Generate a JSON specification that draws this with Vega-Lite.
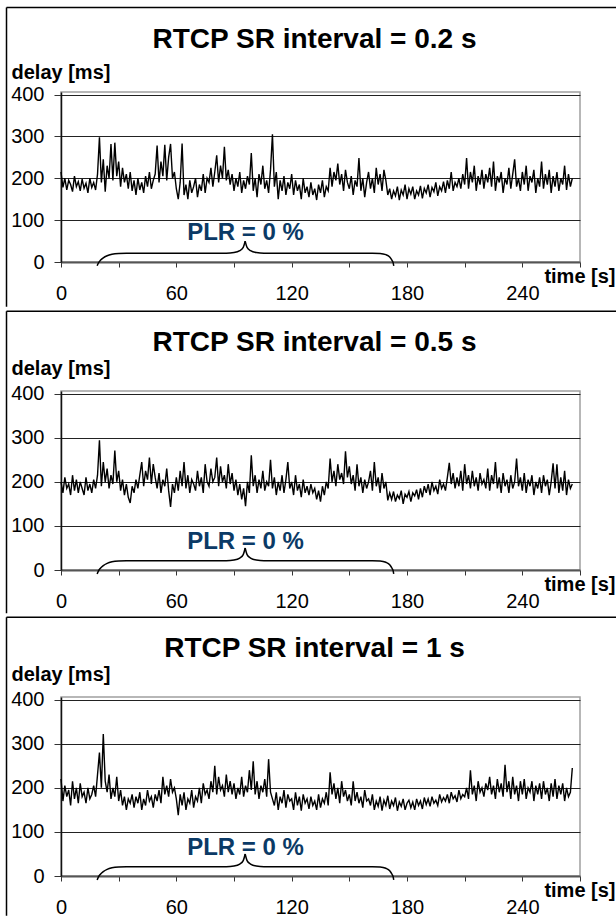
{
"$schema": "https://vega.github.io/schema/vega-lite/v6.json",
"padding": {"left": 5, "top": 5, "right": 0, "bottom": 0},
"spacing": 0,
"config": {
 "font": "Liberation Sans",
 "view": {"stroke": "#a0a0a0", "strokeWidth": 1.5},
 "axis": {"labelFont": "Liberation Sans", "titleFont": "Liberation Sans", "labelColor": "black", "titleColor": "black", "labelFontSize": 20, "titleFontSize": 20, "titleFontWeight": "bold", "labelOverlap": false, "labelFlush": false},
 "title": {"font": "Liberation Sans", "fontSize": 28, "fontWeight": "bold", "color": "black", "anchor": "middle", "baseline": "alphabetic", "frame": "group"}
},
"datasets": {
"brace": [
{"part":"L","t":18.8,"d":-9},{"part":"L","t":19.5,"d":-2},{"part":"L","t":20.5,"d":4},{"part":"L","t":22,"d":10},{"part":"L","t":24,"d":15},{"part":"L","t":26.5,"d":18.5},{"part":"L","t":30,"d":20.5},{"part":"L","t":34,"d":21},{"part":"L","t":86,"d":21},{"part":"L","t":90,"d":22.5},{"part":"L","t":93,"d":27},{"part":"L","t":94.8,"d":35},{"part":"L","t":95.8,"d":50},
{"part":"R","t":95.8,"d":50},{"part":"R","t":96.8,"d":35},{"part":"R","t":98.6,"d":27},{"part":"R","t":101.6,"d":22.5},{"part":"R","t":105.6,"d":21},{"part":"R","t":162,"d":21},{"part":"R","t":166,"d":20.5},{"part":"R","t":169,"d":17.5},{"part":"R","t":171,"d":12},{"part":"R","t":172.2,"d":4},{"part":"R","t":172.8,"d":-2},{"part":"R","t":173.1,"d":-9}
],
"p1": [
{"t":0,"d":215},{"t":1,"d":178},{"t":2,"d":200},{"t":3,"d":172},{"t":4,"d":195},{"t":5,"d":185},{"t":6,"d":168},{"t":7,"d":205},{"t":8,"d":180},{"t":9,"d":192},
{"t":10,"d":170},{"t":11,"d":198},{"t":12,"d":176},{"t":13,"d":188},{"t":14,"d":165},{"t":15,"d":200},{"t":16,"d":178},{"t":17,"d":190},{"t":18,"d":172},{"t":19,"d":210},
{"t":20,"d":298},{"t":21,"d":190},{"t":22,"d":245},{"t":23,"d":168},{"t":24,"d":230},{"t":25,"d":200},{"t":26,"d":282},{"t":27,"d":195},{"t":28,"d":285},{"t":29,"d":205},
{"t":30,"d":240},{"t":31,"d":180},{"t":32,"d":225},{"t":33,"d":190},{"t":34,"d":210},{"t":35,"d":175},{"t":36,"d":215},{"t":37,"d":170},{"t":38,"d":195},{"t":39,"d":160},
{"t":40,"d":200},{"t":41,"d":172},{"t":42,"d":190},{"t":43,"d":165},{"t":44,"d":205},{"t":45,"d":180},{"t":46,"d":215},{"t":47,"d":175},{"t":48,"d":195},{"t":49,"d":210},
{"t":50,"d":278},{"t":51,"d":190},{"t":52,"d":240},{"t":53,"d":205},{"t":54,"d":280},{"t":55,"d":195},{"t":56,"d":250},{"t":57,"d":282},{"t":58,"d":200},{"t":59,"d":215},
{"t":60,"d":175},{"t":61,"d":150},{"t":62,"d":190},{"t":63,"d":283},{"t":64,"d":160},{"t":65,"d":185},{"t":66,"d":150},{"t":67,"d":195},{"t":68,"d":165},{"t":69,"d":180},
{"t":70,"d":200},{"t":71,"d":155},{"t":72,"d":185},{"t":73,"d":170},{"t":74,"d":210},{"t":75,"d":165},{"t":76,"d":200},{"t":77,"d":190},{"t":78,"d":225},{"t":79,"d":180},
{"t":80,"d":215},{"t":81,"d":255},{"t":82,"d":190},{"t":83,"d":230},{"t":84,"d":200},{"t":85,"d":275},{"t":86,"d":195},{"t":87,"d":220},{"t":88,"d":185},{"t":89,"d":210},
{"t":90,"d":170},{"t":91,"d":200},{"t":92,"d":180},{"t":93,"d":215},{"t":94,"d":165},{"t":95,"d":195},{"t":96,"d":175},{"t":97,"d":205},{"t":98,"d":185},{"t":99,"d":260},
{"t":100,"d":170},{"t":101,"d":200},{"t":102,"d":155},{"t":103,"d":210},{"t":104,"d":185},{"t":105,"d":230},{"t":106,"d":175},{"t":107,"d":195},{"t":108,"d":165},{"t":109,"d":220},
{"t":110,"d":305},{"t":111,"d":180},{"t":112,"d":215},{"t":113,"d":150},{"t":114,"d":195},{"t":115,"d":170},{"t":116,"d":205},{"t":117,"d":160},{"t":118,"d":190},{"t":119,"d":175},
{"t":120,"d":210},{"t":121,"d":160},{"t":122,"d":195},{"t":123,"d":170},{"t":124,"d":185},{"t":125,"d":150},{"t":126,"d":200},{"t":127,"d":165},{"t":128,"d":180},{"t":129,"d":155},
{"t":130,"d":190},{"t":131,"d":160},{"t":132,"d":175},{"t":133,"d":148},{"t":134,"d":185},{"t":135,"d":165},{"t":136,"d":195},{"t":137,"d":155},{"t":138,"d":180},{"t":139,"d":170},
{"t":140,"d":225},{"t":141,"d":180},{"t":142,"d":215},{"t":143,"d":195},{"t":144,"d":235},{"t":145,"d":185},{"t":146,"d":210},{"t":147,"d":170},{"t":148,"d":220},{"t":149,"d":190},
{"t":150,"d":175},{"t":151,"d":205},{"t":152,"d":160},{"t":153,"d":195},{"t":154,"d":180},{"t":155,"d":248},{"t":156,"d":170},{"t":157,"d":200},{"t":158,"d":155},{"t":159,"d":190},
{"t":160,"d":215},{"t":161,"d":175},{"t":162,"d":200},{"t":163,"d":165},{"t":164,"d":225},{"t":165,"d":185},{"t":166,"d":210},{"t":167,"d":170},{"t":168,"d":220},{"t":169,"d":195},
{"t":170,"d":160},{"t":171,"d":175},{"t":172,"d":150},{"t":173,"d":170},{"t":174,"d":158},{"t":175,"d":180},{"t":176,"d":148},{"t":177,"d":172},{"t":178,"d":160},{"t":179,"d":185},
{"t":180,"d":150},{"t":181,"d":175},{"t":182,"d":162},{"t":183,"d":180},{"t":184,"d":150},{"t":185,"d":170},{"t":186,"d":160},{"t":187,"d":182},{"t":188,"d":152},{"t":189,"d":176},
{"t":190,"d":165},{"t":191,"d":185},{"t":192,"d":155},{"t":193,"d":178},{"t":194,"d":168},{"t":195,"d":190},{"t":196,"d":158},{"t":197,"d":180},{"t":198,"d":170},{"t":199,"d":192},
{"t":200,"d":165},{"t":201,"d":195},{"t":202,"d":175},{"t":203,"d":215},{"t":204,"d":170},{"t":205,"d":190},{"t":206,"d":180},{"t":207,"d":200},{"t":208,"d":175},{"t":209,"d":210},
{"t":210,"d":185},{"t":211,"d":248},{"t":212,"d":175},{"t":213,"d":215},{"t":214,"d":190},{"t":215,"d":230},{"t":216,"d":170},{"t":217,"d":205},{"t":218,"d":185},{"t":219,"d":220},
{"t":220,"d":175},{"t":221,"d":210},{"t":222,"d":190},{"t":223,"d":225},{"t":224,"d":180},{"t":225,"d":240},{"t":226,"d":170},{"t":227,"d":205},{"t":228,"d":190},{"t":229,"d":215},
{"t":230,"d":165},{"t":231,"d":200},{"t":232,"d":185},{"t":233,"d":225},{"t":234,"d":175},{"t":235,"d":210},{"t":236,"d":245},{"t":237,"d":180},{"t":238,"d":200},{"t":239,"d":170},
{"t":240,"d":215},{"t":241,"d":185},{"t":242,"d":230},{"t":243,"d":170},{"t":244,"d":205},{"t":245,"d":190},{"t":246,"d":220},{"t":247,"d":165},{"t":248,"d":200},{"t":249,"d":180},
{"t":250,"d":240},{"t":251,"d":175},{"t":252,"d":210},{"t":253,"d":185},{"t":254,"d":220},{"t":255,"d":165},{"t":256,"d":205},{"t":257,"d":180},{"t":258,"d":215},{"t":259,"d":170},
{"t":260,"d":200},{"t":261,"d":185},{"t":262,"d":230},{"t":263,"d":172},{"t":264,"d":210},{"t":265,"d":180},{"t":266,"d":200}
],
"p2": [
{"t":0,"d":200},{"t":1,"d":175},{"t":2,"d":210},{"t":3,"d":185},{"t":4,"d":195},{"t":5,"d":170},{"t":6,"d":215},{"t":7,"d":180},{"t":8,"d":205},{"t":9,"d":175},
{"t":10,"d":200},{"t":11,"d":185},{"t":12,"d":170},{"t":13,"d":210},{"t":14,"d":180},{"t":15,"d":195},{"t":16,"d":175},{"t":17,"d":205},{"t":18,"d":185},{"t":19,"d":215},
{"t":20,"d":294},{"t":21,"d":190},{"t":22,"d":245},{"t":23,"d":200},{"t":24,"d":230},{"t":25,"d":185},{"t":26,"d":215},{"t":27,"d":195},{"t":28,"d":271},{"t":29,"d":200},
{"t":30,"d":225},{"t":31,"d":180},{"t":32,"d":205},{"t":33,"d":170},{"t":34,"d":195},{"t":35,"d":165},{"t":36,"d":152},{"t":37,"d":190},{"t":38,"d":175},{"t":39,"d":205},
{"t":40,"d":185},{"t":41,"d":215},{"t":42,"d":245},{"t":43,"d":190},{"t":44,"d":225},{"t":45,"d":205},{"t":46,"d":255},{"t":47,"d":195},{"t":48,"d":240},{"t":49,"d":210},
{"t":50,"d":185},{"t":51,"d":220},{"t":52,"d":175},{"t":53,"d":205},{"t":54,"d":190},{"t":55,"d":230},{"t":56,"d":180},{"t":57,"d":143},{"t":58,"d":195},{"t":59,"d":175},
{"t":60,"d":210},{"t":61,"d":180},{"t":62,"d":225},{"t":63,"d":190},{"t":64,"d":245},{"t":65,"d":185},{"t":66,"d":215},{"t":67,"d":175},{"t":68,"d":205},{"t":69,"d":195},
{"t":70,"d":180},{"t":71,"d":225},{"t":72,"d":190},{"t":73,"d":210},{"t":74,"d":175},{"t":75,"d":240},{"t":76,"d":200},{"t":77,"d":190},{"t":78,"d":230},{"t":79,"d":200},
{"t":80,"d":210},{"t":81,"d":255},{"t":82,"d":190},{"t":83,"d":235},{"t":84,"d":200},{"t":85,"d":215},{"t":86,"d":185},{"t":87,"d":240},{"t":88,"d":195},{"t":89,"d":220},
{"t":90,"d":180},{"t":91,"d":205},{"t":92,"d":170},{"t":93,"d":195},{"t":94,"d":160},{"t":95,"d":185},{"t":96,"d":145},{"t":97,"d":200},{"t":98,"d":175},{"t":99,"d":260},
{"t":100,"d":190},{"t":101,"d":215},{"t":102,"d":175},{"t":103,"d":205},{"t":104,"d":185},{"t":105,"d":225},{"t":106,"d":180},{"t":107,"d":200},{"t":108,"d":190},{"t":109,"d":250},
{"t":110,"d":185},{"t":111,"d":210},{"t":112,"d":170},{"t":113,"d":200},{"t":114,"d":180},{"t":115,"d":215},{"t":116,"d":175},{"t":117,"d":205},{"t":118,"d":245},{"t":119,"d":185},
{"t":120,"d":200},{"t":121,"d":170},{"t":122,"d":215},{"t":123,"d":180},{"t":124,"d":195},{"t":125,"d":165},{"t":126,"d":205},{"t":127,"d":175},{"t":128,"d":190},{"t":129,"d":170},
{"t":130,"d":195},{"t":131,"d":175},{"t":132,"d":185},{"t":133,"d":160},{"t":134,"d":180},{"t":135,"d":155},{"t":136,"d":190},{"t":137,"d":170},{"t":138,"d":200},{"t":139,"d":185},
{"t":140,"d":253},{"t":141,"d":200},{"t":142,"d":225},{"t":143,"d":190},{"t":144,"d":240},{"t":145,"d":205},{"t":146,"d":220},{"t":147,"d":195},{"t":148,"d":269},{"t":149,"d":210},
{"t":150,"d":235},{"t":151,"d":195},{"t":152,"d":215},{"t":153,"d":180},{"t":154,"d":240},{"t":155,"d":190},{"t":156,"d":210},{"t":157,"d":175},{"t":158,"d":205},{"t":159,"d":185},
{"t":160,"d":200},{"t":161,"d":225},{"t":162,"d":180},{"t":163,"d":245},{"t":164,"d":190},{"t":165,"d":210},{"t":166,"d":175},{"t":167,"d":220},{"t":168,"d":185},{"t":169,"d":200},
{"t":170,"d":158},{"t":171,"d":175},{"t":172,"d":160},{"t":173,"d":178},{"t":174,"d":155},{"t":175,"d":170},{"t":176,"d":162},{"t":177,"d":180},{"t":178,"d":150},{"t":179,"d":172},
{"t":180,"d":165},{"t":181,"d":178},{"t":182,"d":155},{"t":183,"d":175},{"t":184,"d":168},{"t":185,"d":182},{"t":186,"d":160},{"t":187,"d":185},{"t":188,"d":165},{"t":189,"d":190},
{"t":190,"d":175},{"t":191,"d":195},{"t":192,"d":170},{"t":193,"d":200},{"t":194,"d":180},{"t":195,"d":190},{"t":196,"d":172},{"t":197,"d":205},{"t":198,"d":185},{"t":199,"d":195},
{"t":200,"d":180},{"t":201,"d":210},{"t":202,"d":243},{"t":203,"d":195},{"t":204,"d":220},{"t":205,"d":185},{"t":206,"d":210},{"t":207,"d":190},{"t":208,"d":225},{"t":209,"d":180},
{"t":210,"d":240},{"t":211,"d":195},{"t":212,"d":215},{"t":213,"d":185},{"t":214,"d":225},{"t":215,"d":190},{"t":216,"d":210},{"t":217,"d":180},{"t":218,"d":220},{"t":219,"d":195},
{"t":220,"d":205},{"t":221,"d":185},{"t":222,"d":230},{"t":223,"d":180},{"t":224,"d":215},{"t":225,"d":195},{"t":226,"d":245},{"t":227,"d":185},{"t":228,"d":210},{"t":229,"d":175},
{"t":230,"d":220},{"t":231,"d":190},{"t":232,"d":205},{"t":233,"d":175},{"t":234,"d":215},{"t":235,"d":185},{"t":236,"d":200},{"t":237,"d":253},{"t":238,"d":190},{"t":239,"d":210},
{"t":240,"d":180},{"t":241,"d":220},{"t":242,"d":175},{"t":243,"d":205},{"t":244,"d":190},{"t":245,"d":215},{"t":246,"d":170},{"t":247,"d":200},{"t":248,"d":185},{"t":249,"d":210},
{"t":250,"d":175},{"t":251,"d":215},{"t":252,"d":190},{"t":253,"d":205},{"t":254,"d":170},{"t":255,"d":200},{"t":256,"d":242},{"t":257,"d":185},{"t":258,"d":240},{"t":259,"d":175},
{"t":260,"d":210},{"t":261,"d":180},{"t":262,"d":225},{"t":263,"d":170},{"t":264,"d":205},{"t":265,"d":185},{"t":266,"d":195}
],
"p3": [
{"t":0,"d":220},{"t":1,"d":170},{"t":2,"d":205},{"t":3,"d":180},{"t":4,"d":195},{"t":5,"d":160},{"t":6,"d":215},{"t":7,"d":175},{"t":8,"d":200},{"t":9,"d":165},
{"t":10,"d":210},{"t":11,"d":180},{"t":12,"d":190},{"t":13,"d":165},{"t":14,"d":200},{"t":15,"d":175},{"t":16,"d":185},{"t":17,"d":205},{"t":18,"d":180},{"t":19,"d":230},
{"t":20,"d":280},{"t":21,"d":200},{"t":22,"d":322},{"t":23,"d":215},{"t":24,"d":190},{"t":25,"d":230},{"t":26,"d":175},{"t":27,"d":200},{"t":28,"d":180},{"t":29,"d":225},
{"t":30,"d":170},{"t":31,"d":195},{"t":32,"d":160},{"t":33,"d":180},{"t":34,"d":150},{"t":35,"d":175},{"t":36,"d":165},{"t":37,"d":185},{"t":38,"d":155},{"t":39,"d":180},
{"t":40,"d":165},{"t":41,"d":190},{"t":42,"d":150},{"t":43,"d":175},{"t":44,"d":160},{"t":45,"d":195},{"t":46,"d":170},{"t":47,"d":180},{"t":48,"d":155},{"t":49,"d":185},
{"t":50,"d":170},{"t":51,"d":195},{"t":52,"d":165},{"t":53,"d":225},{"t":54,"d":185},{"t":55,"d":205},{"t":56,"d":180},{"t":57,"d":220},{"t":58,"d":190},{"t":59,"d":200},
{"t":60,"d":175},{"t":61,"d":138},{"t":62,"d":185},{"t":63,"d":160},{"t":64,"d":190},{"t":65,"d":150},{"t":66,"d":175},{"t":67,"d":165},{"t":68,"d":195},{"t":69,"d":155},
{"t":70,"d":180},{"t":71,"d":170},{"t":72,"d":200},{"t":73,"d":165},{"t":74,"d":210},{"t":75,"d":185},{"t":76,"d":195},{"t":77,"d":175},{"t":78,"d":215},{"t":79,"d":190},
{"t":80,"d":250},{"t":81,"d":185},{"t":82,"d":225},{"t":83,"d":195},{"t":84,"d":205},{"t":85,"d":180},{"t":86,"d":230},{"t":87,"d":190},{"t":88,"d":215},{"t":89,"d":185},
{"t":90,"d":210},{"t":91,"d":175},{"t":92,"d":200},{"t":93,"d":185},{"t":94,"d":225},{"t":95,"d":180},{"t":96,"d":205},{"t":97,"d":190},{"t":98,"d":240},{"t":99,"d":195},
{"t":100,"d":260},{"t":101,"d":185},{"t":102,"d":215},{"t":103,"d":175},{"t":104,"d":205},{"t":105,"d":190},{"t":106,"d":220},{"t":107,"d":180},{"t":108,"d":265},{"t":109,"d":190},
{"t":110,"d":175},{"t":111,"d":160},{"t":112,"d":190},{"t":113,"d":150},{"t":114,"d":180},{"t":115,"d":165},{"t":116,"d":195},{"t":117,"d":155},{"t":118,"d":185},{"t":119,"d":170},
{"t":120,"d":175},{"t":121,"d":150},{"t":122,"d":190},{"t":123,"d":160},{"t":124,"d":180},{"t":125,"d":148},{"t":126,"d":185},{"t":127,"d":165},{"t":128,"d":175},{"t":129,"d":152},
{"t":130,"d":180},{"t":131,"d":160},{"t":132,"d":170},{"t":133,"d":150},{"t":134,"d":185},{"t":135,"d":155},{"t":136,"d":175},{"t":137,"d":165},{"t":138,"d":190},{"t":139,"d":160},
{"t":140,"d":235},{"t":141,"d":185},{"t":142,"d":210},{"t":143,"d":175},{"t":144,"d":200},{"t":145,"d":165},{"t":146,"d":215},{"t":147,"d":180},{"t":148,"d":195},{"t":149,"d":170},
{"t":150,"d":185},{"t":151,"d":160},{"t":152,"d":215},{"t":153,"d":170},{"t":154,"d":190},{"t":155,"d":165},{"t":156,"d":180},{"t":157,"d":155},{"t":158,"d":195},{"t":159,"d":170},
{"t":160,"d":175},{"t":161,"d":160},{"t":162,"d":185},{"t":163,"d":150},{"t":164,"d":170},{"t":165,"d":158},{"t":166,"d":180},{"t":167,"d":148},{"t":168,"d":172},{"t":169,"d":160},
{"t":170,"d":182},{"t":171,"d":152},{"t":172,"d":170},{"t":173,"d":160},{"t":174,"d":178},{"t":175,"d":148},{"t":176,"d":168},{"t":177,"d":158},{"t":178,"d":175},{"t":179,"d":150},
{"t":180,"d":165},{"t":181,"d":172},{"t":182,"d":155},{"t":183,"d":168},{"t":184,"d":150},{"t":185,"d":175},{"t":186,"d":160},{"t":187,"d":170},{"t":188,"d":152},{"t":189,"d":178},
{"t":190,"d":162},{"t":191,"d":175},{"t":192,"d":158},{"t":193,"d":180},{"t":194,"d":165},{"t":195,"d":172},{"t":196,"d":160},{"t":197,"d":185},{"t":198,"d":168},{"t":199,"d":178},
{"t":200,"d":170},{"t":201,"d":185},{"t":202,"d":165},{"t":203,"d":190},{"t":204,"d":175},{"t":205,"d":182},{"t":206,"d":168},{"t":207,"d":195},{"t":208,"d":175},{"t":209,"d":185},
{"t":210,"d":180},{"t":211,"d":200},{"t":212,"d":175},{"t":213,"d":240},{"t":214,"d":185},{"t":215,"d":205},{"t":216,"d":170},{"t":217,"d":215},{"t":218,"d":190},{"t":219,"d":200},
{"t":220,"d":180},{"t":221,"d":210},{"t":222,"d":195},{"t":223,"d":225},{"t":224,"d":185},{"t":225,"d":205},{"t":226,"d":175},{"t":227,"d":220},{"t":228,"d":190},{"t":229,"d":210},
{"t":230,"d":180},{"t":231,"d":252},{"t":232,"d":190},{"t":233,"d":215},{"t":234,"d":175},{"t":235,"d":225},{"t":236,"d":185},{"t":237,"d":205},{"t":238,"d":170},{"t":239,"d":215},
{"t":240,"d":185},{"t":241,"d":220},{"t":242,"d":175},{"t":243,"d":200},{"t":244,"d":190},{"t":245,"d":215},{"t":246,"d":170},{"t":247,"d":205},{"t":248,"d":185},{"t":249,"d":210},
{"t":250,"d":175},{"t":251,"d":215},{"t":252,"d":185},{"t":253,"d":200},{"t":254,"d":170},{"t":255,"d":210},{"t":256,"d":180},{"t":257,"d":220},{"t":258,"d":175},{"t":259,"d":205},
{"t":260,"d":185},{"t":261,"d":210},{"t":262,"d":170},{"t":263,"d":200},{"t":264,"d":180},{"t":265,"d":190},{"t":266,"d":245}
]
},
"vconcat": [
{
 "width": 519, "height": 170,
 "title": {"text": "RTCP SR interval = 0.2 s", "offset": -47, "dx": -6},
 "layer": [
  {"data": {"name": "p1"}, "mark": {"type": "line", "color": "black", "strokeWidth": 1.4},
   "encoding": {
    "x": {"field": "t", "type": "quantitative", "scale": {"domain": [0, 270], "nice": false, "zero": false},
     "axis": {"values": [0,30,60,90,120,150,180,210,240,270], "labelExpr": "datum.value % 60 == 0 && datum.value < 250 ? datum.label : ''", "grid": false, "tickSize": 5, "tickColor": "#333", "domainColor": "#555", "domainWidth": 2, "labelPadding": 16, "title": "time [s]", "titleX": 554, "titleY": 20, "titleAlign": "right", "titleBaseline": "alphabetic", "titleAnchor": "end"}},
    "y": {"field": "d", "type": "quantitative", "scale": {"domain": [0, 406], "nice": false, "zero": false},
     "axis": {"values": [0,50,100,150,200,250,300,350,400], "labelExpr": "datum.value % 100 == 0 ? datum.label : ''", "grid": true, "gridColor": "#222", "gridWidth": 1, "gridOpacity": {"condition": {"test": "datum.value % 100 == 0 && datum.value > 0", "value": 1}, "value": 0}, "tickSize": 7, "tickColor": "#333", "domainColor": "#111", "domainWidth": 1.5, "labelPadding": 10, "title": "delay [ms]", "titleAngle": 0, "titleAlign": "left", "titleBaseline": "alphabetic", "titleX": -50, "titleY": -14, "titleAnchor": "start"}}
   }},
  {"data": {"values": [{}]}, "mark": {"type": "rule", "color": "black", "strokeWidth": 1.5},
   "encoding": {"x": {"datum": -28.35, "scale": {"domain": [0, 270], "nice": false, "zero": false}}, "y": {"datum": -107, "scale": {"domain": [0, 406], "nice": false, "zero": false}}, "y2": {"datum": 608}}},
  {"data": {"values": [{}]}, "mark": {"type": "rule", "color": "black", "strokeWidth": 1.5},
   "encoding": {"x": {"datum": -28.35, "scale": {"domain": [0, 270], "nice": false, "zero": false}}, "x2": {"datum": 289}, "y": {"datum": 608, "scale": {"domain": [0, 406], "nice": false, "zero": false}}}},
  {"data": {"name": "brace"}, "mark": {"type": "line", "color": "black", "strokeWidth": 1.5, "interpolate": "monotone"},
   "encoding": {"x": {"field": "t", "type": "quantitative", "scale": {"domain": [0, 270], "nice": false, "zero": false}}, "y": {"field": "d", "type": "quantitative", "scale": {"domain": [0, 406], "nice": false, "zero": false}}, "detail": {"field": "part"}}},
  {"data": {"values": [{"label": "PLR = 0 %"}]}, "mark": {"type": "text", "fontSize": 24, "fontWeight": "bold", "color": "#0b3a66", "align": "center", "baseline": "alphabetic"},
   "encoding": {"x": {"datum": 96, "scale": {"domain": [0, 270], "nice": false, "zero": false}}, "y": {"datum": 52, "scale": {"domain": [0, 406], "nice": false, "zero": false}}, "text": {"field": "label"}}}
 ]
},
{
 "width": 519, "height": 179,
 "title": {"text": "RTCP SR interval = 0.5 s", "offset": -47, "dx": -6},
 "layer": [
  {"data": {"name": "p2"}, "mark": {"type": "line", "color": "black", "strokeWidth": 1.4},
   "encoding": {
    "x": {"field": "t", "type": "quantitative", "scale": {"domain": [0, 270], "nice": false, "zero": false},
     "axis": {"values": [0,30,60,90,120,150,180,210,240,270], "labelExpr": "datum.value % 60 == 0 && datum.value < 250 ? datum.label : ''", "grid": false, "tickSize": 5, "tickColor": "#333", "domainColor": "#555", "domainWidth": 2, "labelPadding": 16, "title": "time [s]", "titleX": 554, "titleY": 20, "titleAlign": "right", "titleBaseline": "alphabetic", "titleAnchor": "end"}},
    "y": {"field": "d", "type": "quantitative", "scale": {"domain": [0, 406], "nice": false, "zero": false},
     "axis": {"values": [0,50,100,150,200,250,300,350,400], "labelExpr": "datum.value % 100 == 0 ? datum.label : ''", "grid": true, "gridColor": "#222", "gridWidth": 1, "gridOpacity": {"condition": {"test": "datum.value % 100 == 0 && datum.value > 0", "value": 1}, "value": 0}, "tickSize": 7, "tickColor": "#333", "domainColor": "#111", "domainWidth": 1.5, "labelPadding": 10, "title": "delay [ms]", "titleAngle": 0, "titleAlign": "left", "titleBaseline": "alphabetic", "titleX": -50, "titleY": -17, "titleAnchor": "start"}}
   }},
  {"data": {"values": [{}]}, "mark": {"type": "rule", "color": "black", "strokeWidth": 1.5},
   "encoding": {"x": {"datum": -28.35, "scale": {"domain": [0, 270], "nice": false, "zero": false}}, "y": {"datum": -98, "scale": {"domain": [0, 406], "nice": false, "zero": false}}, "y2": {"datum": 587}}},
  {"data": {"values": [{}]}, "mark": {"type": "rule", "color": "black", "strokeWidth": 1.5},
   "encoding": {"x": {"datum": -28.35, "scale": {"domain": [0, 270], "nice": false, "zero": false}}, "x2": {"datum": 289}, "y": {"datum": 587, "scale": {"domain": [0, 406], "nice": false, "zero": false}}}},
  {"data": {"name": "brace"}, "mark": {"type": "line", "color": "black", "strokeWidth": 1.5, "interpolate": "monotone"},
   "encoding": {"x": {"field": "t", "type": "quantitative", "scale": {"domain": [0, 270], "nice": false, "zero": false}}, "y": {"field": "d", "type": "quantitative", "scale": {"domain": [0, 406], "nice": false, "zero": false}}, "detail": {"field": "part"}}},
  {"data": {"values": [{"label": "PLR = 0 %"}]}, "mark": {"type": "text", "fontSize": 24, "fontWeight": "bold", "color": "#0b3a66", "align": "center", "baseline": "alphabetic"},
   "encoding": {"x": {"datum": 96, "scale": {"domain": [0, 270], "nice": false, "zero": false}}, "y": {"datum": 48, "scale": {"domain": [0, 406], "nice": false, "zero": false}}, "text": {"field": "label"}}}
 ]
},
{
 "width": 519, "height": 179,
 "title": {"text": "RTCP SR interval = 1 s", "offset": -47, "dx": -6},
 "layer": [
  {"data": {"name": "p3"}, "mark": {"type": "line", "color": "black", "strokeWidth": 1.4},
   "encoding": {
    "x": {"field": "t", "type": "quantitative", "scale": {"domain": [0, 270], "nice": false, "zero": false},
     "axis": {"values": [0,30,60,90,120,150,180,210,240,270], "labelExpr": "datum.value % 60 == 0 && datum.value < 250 ? datum.label : ''", "grid": false, "tickSize": 5, "tickColor": "#333", "domainColor": "#555", "domainWidth": 2, "labelPadding": 16, "title": "time [s]", "titleX": 554, "titleY": 20, "titleAlign": "right", "titleBaseline": "alphabetic", "titleAnchor": "end"}},
    "y": {"field": "d", "type": "quantitative", "scale": {"domain": [0, 406], "nice": false, "zero": false},
     "axis": {"values": [0,50,100,150,200,250,300,350,400], "labelExpr": "datum.value % 100 == 0 ? datum.label : ''", "grid": true, "gridColor": "#222", "gridWidth": 1, "gridOpacity": {"condition": {"test": "datum.value % 100 == 0 && datum.value > 0", "value": 1}, "value": 0}, "tickSize": 7, "tickColor": "#333", "domainColor": "#111", "domainWidth": 1.5, "labelPadding": 10, "title": "delay [ms]", "titleAngle": 0, "titleAlign": "left", "titleBaseline": "alphabetic", "titleX": -50, "titleY": -17, "titleAnchor": "start"}}
   }},
  {"data": {"values": [{}]}, "mark": {"type": "rule", "color": "black", "strokeWidth": 1.5},
   "encoding": {"x": {"datum": -28.35, "scale": {"domain": [0, 270], "nice": false, "zero": false}}, "y": {"datum": -90, "scale": {"domain": [0, 406], "nice": false, "zero": false}}, "y2": {"datum": 587}}},
  {"data": {"values": [{}]}, "mark": {"type": "rule", "color": "black", "strokeWidth": 1.5},
   "encoding": {"x": {"datum": -28.35, "scale": {"domain": [0, 270], "nice": false, "zero": false}}, "x2": {"datum": 289}, "y": {"datum": 587, "scale": {"domain": [0, 406], "nice": false, "zero": false}}}},
  {"data": {"name": "brace"}, "mark": {"type": "line", "color": "black", "strokeWidth": 1.5, "interpolate": "monotone"},
   "encoding": {"x": {"field": "t", "type": "quantitative", "scale": {"domain": [0, 270], "nice": false, "zero": false}}, "y": {"field": "d", "type": "quantitative", "scale": {"domain": [0, 406], "nice": false, "zero": false}}, "detail": {"field": "part"}}},
  {"data": {"values": [{"label": "PLR = 0 %"}]}, "mark": {"type": "text", "fontSize": 24, "fontWeight": "bold", "color": "#0b3a66", "align": "center", "baseline": "alphabetic"},
   "encoding": {"x": {"datum": 96, "scale": {"domain": [0, 270], "nice": false, "zero": false}}, "y": {"datum": 48, "scale": {"domain": [0, 406], "nice": false, "zero": false}}, "text": {"field": "label"}}}
 ]
}
]
}
